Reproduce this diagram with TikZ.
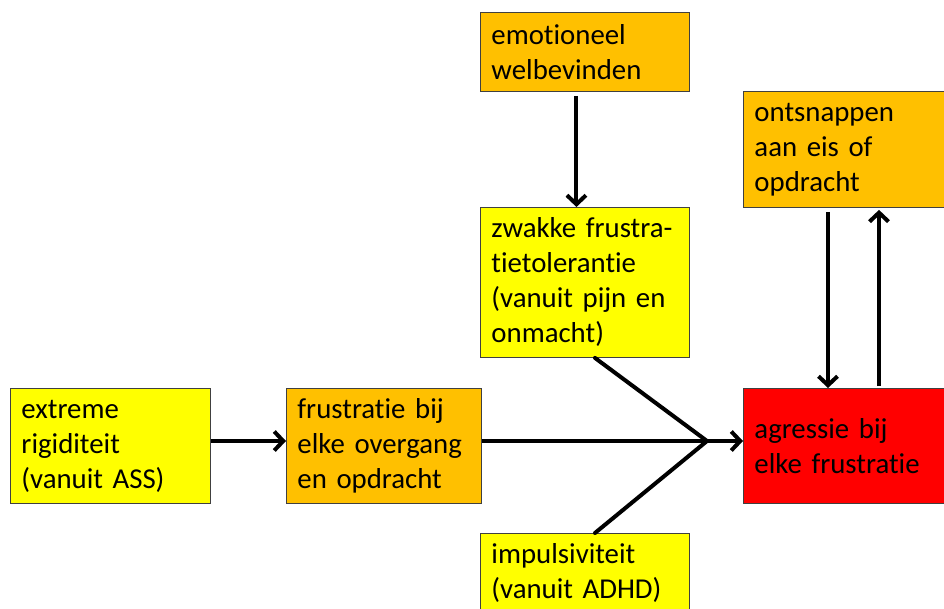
\documentclass[tikz,border=0pt]{standalone}
\usepackage{fontspec}
\setmainfont{Carlito}[Ligatures={NoCommon}]
\usetikzlibrary{arrows.meta}
\definecolor{boxyellow}{HTML}{FFFF00}
\definecolor{boxorange}{HTML}{FFC000}
\definecolor{boxred}{HTML}{FF0000}
\definecolor{boxline}{HTML}{404040}
\begin{document}
\begin{tikzpicture}[x=1pt,y=-1pt,
  box/.style={draw=boxline,line width=0.9pt,anchor=north west,align=left,
    inner xsep=11pt,inner ysep=0pt,
    font=\fontsize{28.8}{35}\selectfont},
  arr/.style={line width=4pt,-{Straight Barb[length=9pt,width=19pt]}},
  link/.style={line width=4pt}]
\useasboundingbox (0,0) rectangle (944,608);
\clip (0,0) rectangle (944,608);

% boxes
\node[box,fill=boxyellow,minimum width=200pt,minimum height=115pt,text width=178pt] (rig) at (10,388)
  {extreme\\rigiditeit\\(vanuit ASS)};
\node[box,fill=boxorange,minimum width=195pt,minimum height=115pt,text width=173pt] (fru) at (286,388)
  {frustratie bij\\elke overgang\\en opdracht};
\node[box,fill=boxorange,minimum width=209pt,minimum height=79pt,text width=187pt] (emo) at (480,12)
  {emotioneel\\welbevinden};
\node[box,fill=boxyellow,minimum width=209pt,minimum height=150pt,text width=187pt] (zwak) at (480,207)
  {zwakke frustra-\\tietolerantie\\(vanuit pijn en\\onmacht)};
\node[box,fill=boxyellow,minimum width=209pt,minimum height=80pt,text width=187pt] (imp) at (480,533)
  {impulsiviteit\\(vanuit ADHD)};
\node[box,fill=boxorange,minimum width=217pt,minimum height=116pt,text width=195pt] (ont) at (743,91)
  {ontsnappen\\aan eis of\\opdracht};
\node[box,fill=boxred,minimum width=217pt,minimum height=115pt,text width=195pt] (agr) at (743,388)
  {agressie bij\\elke frustratie};

% junction and vertical guide coordinates
\coordinate (j) at (707,441);
\coordinate (dn) at (828,0);
\coordinate (up) at (879,0);

% connectors
\draw[arr] (rig.east |- j) -- (fru.west |- j);
\draw[arr] (fru.east |- j) -- (agr.west |- j);
\draw[link,line cap=round] ([xshift=10pt]zwak.south) -- (j);
\draw[link,line cap=round] ([xshift=10pt]imp.north) -- (j);
\draw[arr,shorten <=4pt] ([xshift=-8.5pt]emo.south) -- ([xshift=-8.5pt]zwak.north);
\draw[arr,shorten <=4pt] (ont.south -| dn) -- (agr.north -| dn);
\draw[arr,shorten <=2pt,shorten >=2pt] (agr.north -| up) -- (ont.south -| up);
\end{tikzpicture}
\end{document}
